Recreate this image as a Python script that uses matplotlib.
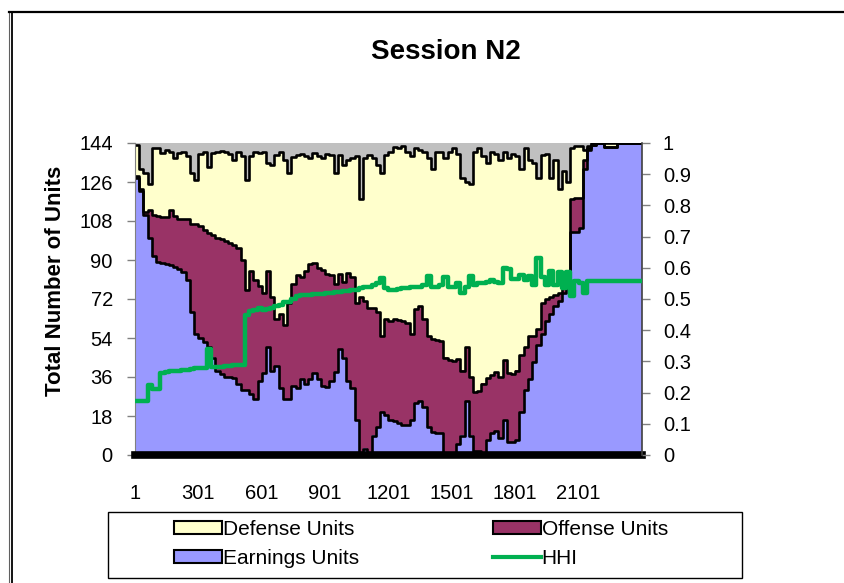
import numpy as np
import matplotlib
matplotlib.use("Agg")
import matplotlib.pyplot as plt
from matplotlib.patches import Patch, Rectangle
from matplotlib.lines import Line2D

plt.rcParams['font.family'] = ['Liberation Sans', 'DejaVu Sans']

periods = list(range(1, 2402, 20))

earnings_units = [128, 122, 111, 100, 92, 89, 88.5, 88, 87.5, 87, 86, 84.5, 81, 66, 56, 54, 52, 50, 45, 39,
                  37.5, 36, 36, 35.5, 33, 30, 30, 28, 26, 34, 38, 50, 39, 41, 31, 26, 26, 32, 31, 35,
                  33, 35, 38, 35, 32, 31.5, 34, 38.5, 49, 45, 34, 31, 16, 0, 3, 0, 9, 13, 20, 18.5,
                  16, 15.5, 15, 14, 14, 16, 24, 25, 22, 13, 10.5, 10, 10, 1, 0, 0, 5, 9, 25, 9,
                  2, 2, 1, 7, 10, 11, 8, 16, 6, 6, 7, 20, 30, 35, 43, 51, 56, 62, 65, 69,
                  71, 75, 79, 103, 103, 105, 132, 141, 143, 144, 144, 142, 142, 142, 144, 144, 144, 144, 144, 144,
                  144]

offense_units = [1, 1, 1, 13, 19, 21.5, 21.5, 22, 25.5, 23.5, 23, 24.5, 28, 40.5, 50.5, 51.5, 52, 52.5, 56.5, 61,
                 62, 63, 62, 61.5, 62.5, 60, 46, 57, 55, 44, 37, 35, 34, 22, 34, 34, 44, 47, 52, 47,
                 52, 53, 50.5, 51.5, 53.5, 52, 49, 40.5, 34.5, 35, 50, 51, 54, 73, 68, 68, 59, 53, 35, 44.5,
                 46, 47.5, 47.5, 48, 47, 40, 43.5, 44, 41, 42, 43, 43, 42.5, 44, 44, 43.5, 39.5, 30, 25, 27,
                 27, 27.5, 32, 28.5, 27, 27.5, 28, 28, 32, 31.5, 32, 26, 20, 20, 12, 7, 14, 10, 8, 5,
                 4, 3, 5, 15, 15.5, 13.5, 4, 0.5, 0, 0, 0, 0, 0, 0, 0, 0, 0, 0, 0, 0,
                 0]

defense_units = [14, 9, 18, 12, 30.5, 31, 29.5, 31, 27, 26.5, 30.5, 31, 29, 23.5, 20.5, 33.5, 36, 30.5, 38, 40,
                 41, 41, 41, 39, 44.5, 48, 51, 53, 59, 61.5, 65, 50, 61, 75.5, 75, 76, 60, 58.5, 55.5, 57,
                 53, 49, 51, 51.5, 51.5, 55.5, 55.5, 51, 55, 54, 52, 55, 68, 45, 66, 70.5, 69, 68, 75, 75.5,
                 78, 79, 79, 80.5, 79, 82, 74, 72, 77, 82, 78.5, 87, 87.5, 92, 96, 98, 94.5, 89, 76, 89,
                 111, 112, 105, 99.5, 103, 100.5, 100, 96, 99, 101.5, 99, 86, 91.5, 81, 80, 70, 68.5, 67, 55, 62,
                 48, 53, 42, 23.5, 24, 24, 5, 1, 1, 0, 0, 2, 2, 2, 0, 0, 0, 0, 0, 0,
                 0]

hhi = [0.172, 0.172, 0.172, 0.225, 0.21, 0.21, 0.263, 0.266, 0.268, 0.268, 0.27, 0.272, 0.274, 0.276, 0.279,
       0.279, 0.28, 0.34, 0.283, 0.283, 0.283, 0.285, 0.286, 0.287, 0.288, 0.29, 0.45, 0.46, 0.465, 0.47,
       0.465, 0.468, 0.472, 0.476, 0.48, 0.49, 0.49, 0.5, 0.51, 0.514, 0.513, 0.514, 0.515, 0.516, 0.517,
       0.518, 0.52, 0.522, 0.524, 0.525, 0.527, 0.53, 0.53, 0.535, 0.537, 0.54, 0.545, 0.55, 0.567, 0.535,
       0.53, 0.53, 0.532, 0.535, 0.535, 0.54, 0.54, 0.54, 0.545, 0.575, 0.54, 0.54, 0.545, 0.57, 0.54,
       0.538, 0.55, 0.52, 0.54, 0.575, 0.545, 0.55, 0.55, 0.555, 0.56, 0.555, 0.55, 0.6, 0.595, 0.565,
       0.565, 0.578, 0.56, 0.575, 0.545, 0.63, 0.57, 0.545, 0.59, 0.545, 0.585, 0.535, 0.585, 0.51, 0.557,
       0.55, 0.518, 0.557, 0.557, 0.557, 0.557, 0.557, 0.557, 0.557, 0.557, 0.557, 0.557, 0.557, 0.557, 0.557,
       0.557]

total_units = 144
x_tick_values = [1, 301, 601, 901, 1201, 1501, 1801, 2101]
left_ticks = [0, 18, 36, 54, 72, 90, 108, 126, 144]
right_ticks = [0, 0.1, 0.2, 0.3, 0.4, 0.5, 0.6, 0.7, 0.8, 0.9, 1]
right_labels = ['0', '0.1', '0.2', '0.3', '0.4', '0.5', '0.6', '0.7', '0.8', '0.9', '1']

# ---------------- styling ----------------
C_EARN = '#9999FF'
C_OFF = '#993366'
C_DEF = '#FFFFCC'
C_OTHER = '#C0C0C0'
C_HHI = '#00B050'

W, H = 844, 583
fig = plt.figure(figsize=(W / 100, H / 100), dpi=100)
fig.patch.set_facecolor('white')

ax = fig.add_axes([135 / W, 1 - 455 / H, (642 - 135) / W, 312 / H])

t = np.array(periods, dtype=float)
e = np.array(earnings_units, dtype=float)
o = np.array(offense_units, dtype=float)
d = np.array(defense_units, dtype=float)
e_top = e
o_top = e + o
d_top = e + o + d

ax.fill_between(t, 0, e_top, step='post', color=C_EARN, lw=0, zorder=1)
ax.fill_between(t, e_top, o_top, step='post', color=C_OFF, lw=0, zorder=1)
ax.fill_between(t, o_top, d_top, step='post', color=C_DEF, lw=0, zorder=1)
ax.fill_between(t, d_top, total_units, step='post', color=C_OTHER, lw=0, zorder=1)
for top in (d_top, o_top, e_top):
    ax.step(t, top, where='post', color='black', lw=1.9, zorder=2)

ax.axhline(0, color='black', lw=5.5, zorder=3, clip_on=False)

ax.set_xlim(1, 2401)
ax.set_ylim(0, total_units)
ax.set_xticks(x_tick_values)
ax.set_xticklabels([str(v) for v in x_tick_values])
ax.set_yticks(left_ticks)
ax.set_yticklabels([str(v) for v in left_ticks])
ax.tick_params(axis='x', length=0, pad=21, labelsize=14.5)
ax.tick_params(axis='y', direction='out', length=6, width=1, color='#808080', pad=10, labelsize=14.5)
for s in ('top', 'bottom', 'right'):
    ax.spines[s].set_visible(False)
ax.spines['left'].set_color('#808080')

ax.set_ylabel('Total Number of Units', fontsize=16, fontweight='bold')
ax.yaxis.set_label_coords((66 - 135) / 507, (455 - 281) / 312)

ax2 = ax.twinx()
ax2.step(t, hhi, where='post', color=C_HHI, lw=3.2, zorder=5)
ax2.set_ylim(0, 1)
ax2.set_yticks(right_ticks)
ax2.set_yticklabels(right_labels)
ax2.tick_params(axis='y', direction='out', length=6, width=1, color='#808080', pad=9, labelsize=14.5)
for s in ('top', 'bottom', 'left'):
    ax2.spines[s].set_visible(False)
ax2.spines['right'].set_color('#404040')
ax2.spines['right'].set_linewidth(1.2)

fig.text(446 / W, 1 - 52 / H, 'Session N2', ha='center', va='center', fontsize=20, fontweight='bold')

# legend
handles = [
    Patch(facecolor=C_DEF, edgecolor='black', lw=1.5, label='Defense Units'),
    Patch(facecolor=C_EARN, edgecolor='black', lw=1.5, label='Earnings Units'),
    Patch(facecolor=C_OFF, edgecolor='black', lw=1.5, label='Offense Units'),
    Line2D([], [], color=C_HHI, lw=3, label='HHI'),
]
fig.legend(handles=handles, ncol=2, frameon=False, loc='center',
           bbox_to_anchor=(421 / W, 1 - 544 / H), fontsize=15,
           handlelength=2.3, handleheight=0.6, handletextpad=0.05,
           columnspacing=6.4, labelspacing=0.5)
fig.add_artist(Rectangle((108 / W, 1 - 578 / H), 634 / W, 66 / H, transform=fig.transFigure,
                         fill=False, edgecolor='black', lw=1))

# outer frame
fig.add_artist(Line2D([9.3 / W, 9.3 / W], [0, 1 - 11 / H], transform=fig.transFigure, color='#606060', lw=0.8))
fig.add_artist(Line2D([11.8 / W, 11.8 / W], [0, 1 - 11.8 / H], transform=fig.transFigure, color='black', lw=1.3))
fig.add_artist(Line2D([9.3 / W, 1], [1 - 11.8 / H, 1 - 11.8 / H], transform=fig.transFigure, color='black', lw=1.6))

fig.savefig('out.png', dpi=100)
